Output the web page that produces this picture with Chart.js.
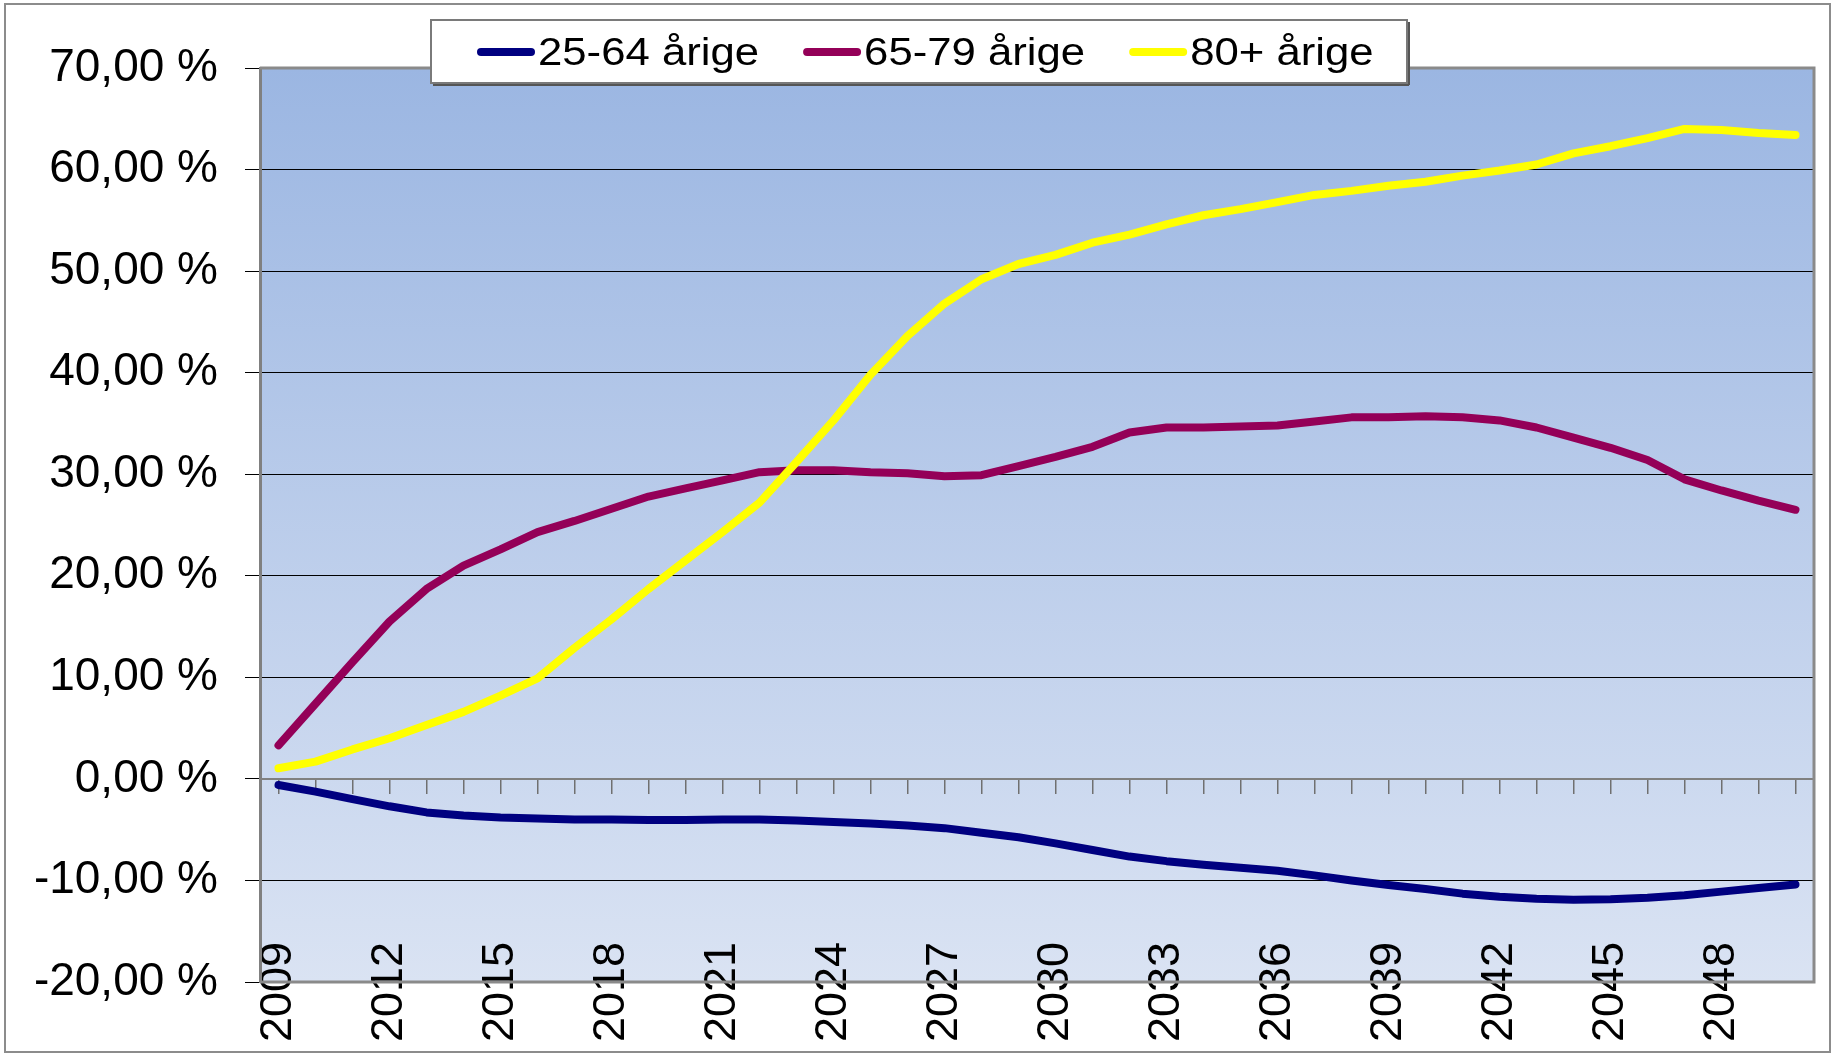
<!DOCTYPE html>
<html>
<head>
<meta charset="utf-8">
<script src="https://cdn.jsdelivr.net/npm/chart.js@4.4.1/dist/chart.umd.min.js"></script>
<style>
  html, body { margin: 0; padding: 0; background: #fff; }
  #chart { display: block; }
</style>
</head>
<body>
<canvas id="chart" width="1839" height="1054"></canvas>
<script>
// categories (years)
const years = ['2009', '2010', '2011', '2012', '2013', '2014', '2015', '2016', '2017', '2018',
  '2019', '2020', '2021', '2022', '2023', '2024', '2025', '2026', '2027', '2028',
  '2029', '2030', '2031', '2032', '2033', '2034', '2035', '2036', '2037', '2038',
  '2039', '2040', '2041', '2042', '2043', '2044', '2045', '2046', '2047', '2048',
  '2049', '2050'];

const seriesLabels = ['25-64 årige', '65-79 årige', '80+ årige'];
const seriesColors = ['#000080', '#940058', '#ffff00'];

// change in percent compared to 2009
const age25to64 = [-0.6, -1.25, -2.0, -2.7, -3.3, -3.6, -3.8, -3.9, -4.0, -4.0,
  -4.05, -4.05, -4.0, -4.0, -4.1, -4.25, -4.4, -4.6, -4.85, -5.3,
  -5.75, -6.35, -7.0, -7.65, -8.1, -8.45, -8.75, -9.05, -9.5, -10.0,
  -10.45, -10.85, -11.3, -11.6, -11.8, -11.9, -11.85, -11.7, -11.45, -11.1,
  -10.75, -10.4];
const age65to79 = [3.3, 7.4, 11.5, 15.5, 18.7, 21.0, 22.6, 24.3, 25.4, 26.6,
  27.8, 28.6, 29.4, 30.2, 30.4, 30.4, 30.2, 30.1, 29.8, 29.9,
  30.8, 31.7, 32.7, 34.1, 34.6, 34.6, 34.7, 34.8, 35.2, 35.6,
  35.6, 35.7, 35.6, 35.3, 34.6, 33.6, 32.6, 31.4, 29.5, 28.4,
  27.4, 26.5];
const age80plus = [1.05, 1.7, 2.9, 4.0, 5.3, 6.6, 8.2, 9.9, 12.9, 15.7,
  18.7, 21.5, 24.3, 27.2, 31.2, 35.3, 39.8, 43.6, 46.8, 49.2,
  50.7, 51.6, 52.8, 53.6, 54.6, 55.5, 56.1, 56.8, 57.5, 57.9,
  58.4, 58.8, 59.4, 59.9, 60.5, 61.6, 62.3, 63.1, 64.0, 63.9,
  63.6, 63.4];

const yTicks = { min: -20, max: 70, step: 10 };

Chart.defaults.font.family = "'Liberation Sans', Arial, sans-serif";
Chart.defaults.color = '#000';

// background, plot area gradient, borders and the legend box
const excelLook = {
  id: 'excelLook',
  beforeDraw(chart) {
    const { ctx, chartArea: a } = chart;
    ctx.save();
    ctx.fillStyle = '#fff';
    ctx.fillRect(0, 0, chart.width, chart.height);
    const g = ctx.createLinearGradient(0, a.top, 0, a.bottom);
    g.addColorStop(0, '#9bb6e2');
    g.addColorStop(1, '#dae3f3');
    ctx.fillStyle = g;
    ctx.fillRect(a.left, a.top, a.right - a.left, a.bottom - a.top);
    ctx.strokeStyle = '#8c8c8c';
    ctx.lineWidth = 2;
    ctx.strokeRect(5, 4, 1825, 1048);
    ctx.restore();
  },
  afterDraw(chart) {
    const { ctx, chartArea: a } = chart;
    ctx.save();
    ctx.strokeStyle = '#8a8a8a';
    ctx.lineWidth = 3;
    ctx.beginPath();
    ctx.moveTo(a.left, a.top);
    ctx.lineTo(a.right, a.top);
    ctx.lineTo(a.right, a.bottom);
    ctx.lineTo(a.left, a.bottom);
    ctx.stroke();

    // legend
    const lx = 431, ly = 20, lw = 976, lh = 63;
    ctx.fillStyle = '#fff';
    ctx.fillRect(lx, ly, lw, lh);
    ctx.strokeStyle = '#7a7a7a';
    ctx.lineWidth = 2;
    ctx.strokeRect(lx, ly, lw, lh);
    ctx.fillStyle = '#555';
    ctx.fillRect(lx + 2, ly + lh + 1, lw, 2);
    ctx.fillRect(lx + lw + 1, ly + 2, 2, lh);

    const sx = 1.15;
    ctx.font = "38px 'Liberation Sans', Arial, sans-serif";
    ctx.textBaseline = 'alphabetic';
    ctx.textAlign = 'left';
    let x = 477;
    chart.data.datasets.forEach(ds => {
      ctx.strokeStyle = ds.borderColor;
      ctx.lineWidth = 8;
      ctx.lineCap = 'round';
      ctx.beginPath();
      ctx.moveTo(x + 4, 52);
      ctx.lineTo(x + 54, 52);
      ctx.stroke();
      ctx.save();
      ctx.translate(x + 61, 65);
      ctx.scale(sx, 1);
      ctx.fillStyle = '#000';
      ctx.fillText(ds.label, 0, 0);
      ctx.restore();
      x += 61 + ctx.measureText(ds.label).width * sx + 44;
    });
    ctx.restore();
  }
};

const lineStyle = {
  borderWidth: 8,
  pointRadius: 0,
  tension: 0,
  fill: false,
  borderJoinStyle: 'round',
  borderCapStyle: 'round'
};

const hiddenGrid = v => (v === 0 || v === yTicks.min || v === yTicks.max) ? 'rgba(0,0,0,0)' : '#000';

new Chart(document.getElementById('chart'), {
  type: 'line',
  data: {
    labels: years,
    datasets: [
      { label: seriesLabels[0], data: age25to64, borderColor: seriesColors[0], order: 3, ...lineStyle },
      { label: seriesLabels[1], data: age65to79, borderColor: seriesColors[1], order: 2, ...lineStyle },
      { label: seriesLabels[2], data: age80plus, borderColor: seriesColors[2], order: 1, ...lineStyle }
    ]
  },
  options: {
    responsive: false,
    animation: false,
    layout: { padding: { top: 68, right: 25, bottom: 72, left: 0 } },
    plugins: {
      legend: { display: false },
      title: { display: false },
      tooltip: { enabled: false }
    },
    scales: {
      x: {
        type: 'category',
        // anchored at the bottom value so labels may overlap the plot (no clipping)
        position: { y: yTicks.min },
        offset: true,
        grid: { display: false, drawTicks: false },
        border: { display: false },
        ticks: {
          autoSkip: false,
          maxRotation: 90,
          minRotation: 90,
          padding: -40,
          color: '#000',
          font: { size: 45 },
          callback: function(value, index) {
            return index % 3 === 0 ? this.getLabelForValue(value) : '';
          }
        },
        afterFit(scale) { scale.height = 0; }
      },
      zeroAxis: {
        type: 'category',
        axis: 'x',
        position: { y: 0 },
        offset: true,
        grid: {
          display: true,
          drawOnChartArea: false,
          drawTicks: true,
          tickLength: 14,
          color: '#707070',
          lineWidth: 1.5
        },
        border: { display: true, color: '#808080', width: 2 },
        ticks: { display: false },
        afterFit(scale) { scale.height = 0; }
      },
      y: {
        min: yTicks.min,
        max: yTicks.max,
        ticks: {
          stepSize: yTicks.step,
          padding: 27,
          color: '#000',
          font: { size: 46 },
          callback: value => value.toFixed(2).replace('.', ',') + ' %'
        },
        grid: {
          color: ctx => hiddenGrid(ctx.tick ? ctx.tick.value : null),
          tickColor: '#000',
          tickLength: 15,
          lineWidth: 1
        },
        border: { display: true, color: '#808080', width: 3 },
        afterFit(scale) { scale.width = 260; }
      }
    }
  },
  plugins: [excelLook]
});
</script>
</body>
</html>
